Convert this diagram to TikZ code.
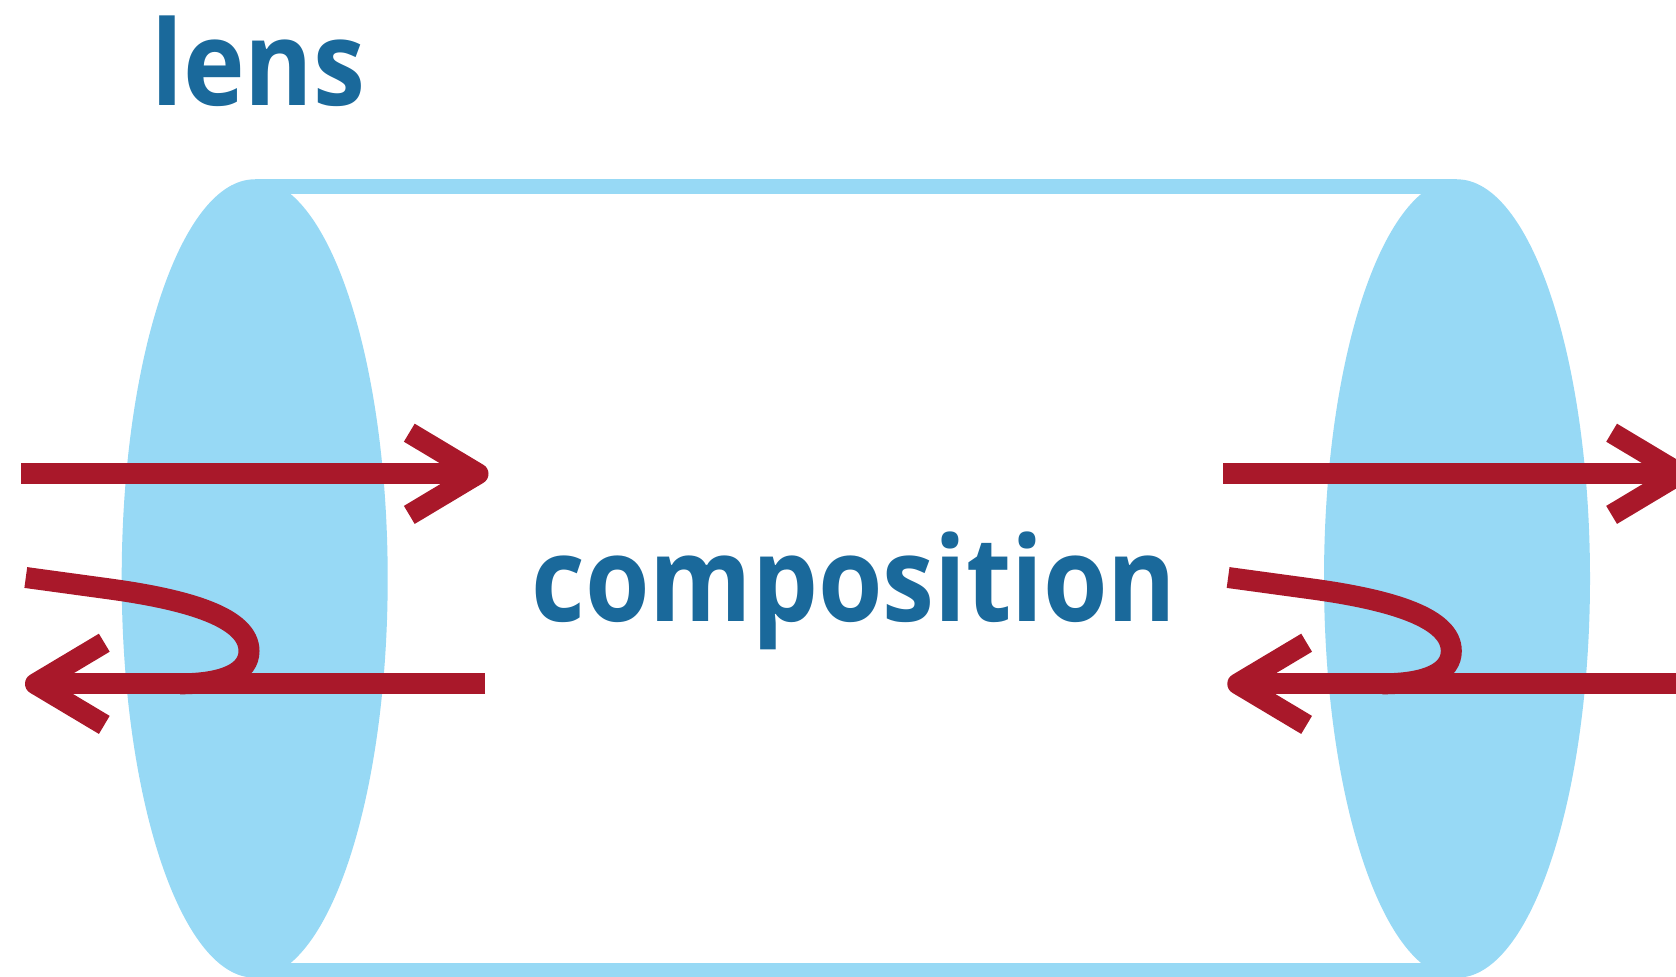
\documentclass[tikz,border=0pt]{standalone}
\usepackage{fontspec}
\setmainfont[FakeStretch=0.884]{Open Sans}
\definecolor{lensblue}{RGB}{151,217,245}
\definecolor{textblue}{RGB}{26,105,155}
\definecolor{rayred}{RGB}{169,24,42}
\tikzset{
  ray/.style={draw=rayred, line width=10.5pt, line cap=butt},
  barb/.style={ray, line join=round},
  lbl/.style={text=textblue, inner sep=0pt, anchor=base west, font=\fontsize{59pt}{65pt}\selectfont\bfseries},
  lensfill/.style={fill=lensblue}
}
\begin{document}
\begin{tikzpicture}[x=0.5pt,y=-0.5pt]
\useasboundingbox (0,0) rectangle (1676,976);
\begin{scope}
\clip (0,0) rectangle (1676,976);
% cylinder body
\fill[lensfill] (254.7,179.3) rectangle (1457,977.7);
\fill[white] (254.7,194.3) rectangle (1457,962.7);
\fill[lensfill] (254.7,578.5) ellipse [x radius=133, y radius=399.2];
\fill[lensfill] (1457,578.5) ellipse [x radius=133, y radius=399.2];
% texts
\node[lbl] (lens) at (151,105) {lens};
\node[lbl] (comp) at (531,621) {composition};
% rays, left and right groups
\foreach \g/\dx in {L/0, R/1202.3}{
  \begin{scope}[shift={(\dx,0)}]
    \coordinate (in\g) at (21,473.8);
    \coordinate (inend\g) at (470,473.8);
    \coordinate (tip\g) at (478,473.8);
    \coordinate (bu\g) at (409.3,432.7);
    \coordinate (bd\g) at (409.3,514.9);
    \coordinate (back\g) at (485,683.8);
    \coordinate (backend\g) at (45,683.8);
    \coordinate (btip\g) at (35.5,683.8);
    \coordinate (bbu\g) at (104.3,642.7);
    \coordinate (bbd\g) at (104.3,724.9);
    \coordinate (refl\g) at (25.8,577.5);
    \coordinate (turn\g) at (249,651);
    \coordinate (merge\g) at (180,683.8);
    \draw[ray] (in\g) -- (inend\g);
    \draw[barb] (bu\g) -- (tip\g) -- (bd\g);
    \draw[ray] (back\g) -- (backend\g);
    \draw[barb] (bbu\g) -- (btip\g) -- (bbd\g);
    \draw[ray] (refl\g) -- (110,589) .. controls (190,600) and (249,618) .. (turn\g)
      .. controls (249,672) and (225,683.8) .. (merge\g);
  \end{scope}
}
\end{scope}
\end{tikzpicture}
\end{document}
